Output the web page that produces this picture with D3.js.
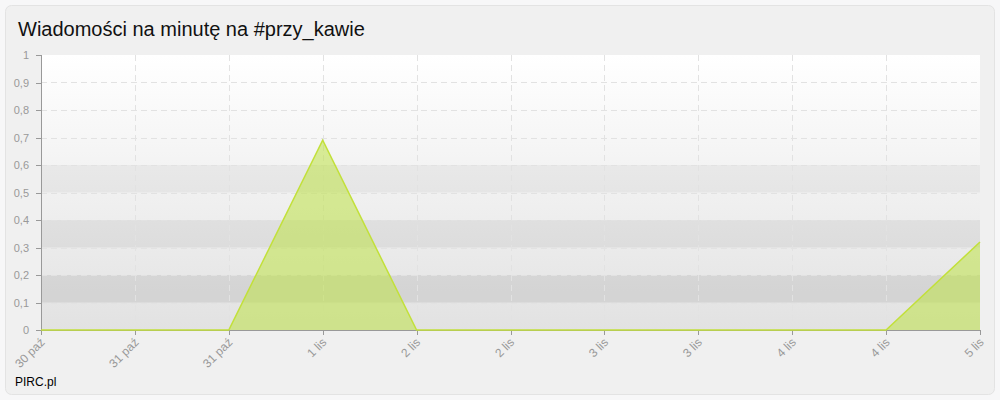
<!DOCTYPE html>
<html>
<head>
    <meta charset='utf-8' />
    <title>Wiadomości na minutę</title>
    <script src="https://d3js.org/d3.v7.min.js" charset="utf-8"></script>
    <style>
        body {
            margin: 0;
            background: #f7f7f8;
            font-family: Arial, "Liberation Sans", sans-serif;
        }

        .axis path,
        .axis line {
            fill: none;
            stroke: #999;
            shape-rendering: crispEdges;
        }

        .axis text {
            fill: #999;
            font-size: 11px;
        }

        .x.axis text {
            font-size: 12px;
        }

        .grid line {
            stroke: #e2e2e2;
            stroke-dasharray: 6, 4;
            shape-rendering: crispEdges;
        }

        .area {
            fill: rgb(190, 225, 70);
            fill-opacity: 0.55;
        }

        .line {
            fill: none;
            stroke: #c2e03a;
            stroke-width: 1.5px;
        }
    </style>
</head>

<body>
    <script>
        var title = "Wiadomości na minutę na #przy_kawie";
        var credit = "PIRC.pl";

        // x labels (several readings fall on the same day)
        var labels = ["30 paź", "31 paź", "31 paź", "1 lis", "2 lis", "2 lis",
                      "3 lis", "3 lis", "4 lis", "4 lis", "5 lis"];
        var values = [0, 0, 0, 0.69, 0, 0, 0, 0, 0, 0, 0.32];
        var yTicks = [0, 0.1, 0.2, 0.3, 0.4, 0.5, 0.6, 0.7, 0.8, 0.9, 1];

        var data = labels.map(function (l, i) {
            return { i: i, label: l, value: values[i] };
        });

        var margin = { top: 55, right: 20, bottom: 70, left: 41 };
        var W = 1000, H = 400;
        var width = W - margin.left - margin.right,
            height = H - margin.top - margin.bottom;

        var root = d3.select("body").append("svg")
            .attr("width", W)
            .attr("height", H);

        var defs = root.append("defs");
        var grad = defs.append("linearGradient")
            .attr("id", "bg")
            .attr("x1", 0).attr("y1", 0).attr("x2", 0).attr("y2", 1);
        grad.append("stop").attr("offset", "0%").attr("stop-color", "#ffffff");
        grad.append("stop").attr("offset", "100%").attr("stop-color", "#e2e2e2");

        // panel
        root.append("rect")
            .attr("x", 5.5).attr("y", 5.5)
            .attr("width", 989).attr("height", 389)
            .attr("rx", 6)
            .attr("fill", "#f0f0f0")
            .attr("stroke", "#e3e3e3");

        root.append("text")
            .attr("x", 18)
            .attr("y", 36)
            .style("font-size", "20px")
            .style("fill", "#111")
            .text(title);

        root.append("text")
            .attr("x", 15)
            .attr("y", 386)
            .style("font-size", "12px")
            .style("fill", "#000")
            .text(credit);

        var svg = root.append("g")
            .attr("transform", "translate(" + margin.left + "," + margin.top + ")");

        var x = d3.scaleLinear()
            .domain([0, labels.length - 1])
            .range([0, width]);

        var y = d3.scaleLinear()
            .domain([0, 1])
            .range([height, 0]);

        // background
        svg.append("rect")
            .attr("width", width)
            .attr("height", height)
            .attr("fill", "url(#bg)");

        // darker stripes
        var stripes = [[0.1, 0.2, 0.075], [0.3, 0.4, 0.06], [0.5, 0.6, 0.045]];
        svg.selectAll(".stripe")
            .data(stripes)
            .enter().append("rect")
            .attr("class", "stripe")
            .attr("x", 0)
            .attr("width", width)
            .attr("y", function (d) { return y(d[1]); })
            .attr("height", function (d) { return y(d[0]) - y(d[1]); })
            .attr("fill", "#000")
            .attr("fill-opacity", function (d) { return d[2]; });

        // grid
        svg.append("g")
            .attr("class", "grid")
            .selectAll("line")
            .data(yTicks.slice(1, -1))
            .enter().append("line")
            .attr("x1", 0).attr("x2", width)
            .attr("y1", function (d) { return Math.round(y(d)) + 0.5; })
            .attr("y2", function (d) { return Math.round(y(d)) + 0.5; });

        svg.append("g")
            .attr("class", "grid")
            .selectAll("line")
            .data(d3.range(1, labels.length - 1))
            .enter().append("line")
            .attr("y1", 0).attr("y2", height)
            .attr("x1", function (d) { return Math.round(x(d)) + 0.5; })
            .attr("x2", function (d) { return Math.round(x(d)) + 0.5; });

        // area + line
        var area = d3.area()
            .x(function (d) { return x(d.i); })
            .y0(height)
            .y1(function (d) { return y(d.value); });

        var line = d3.line()
            .x(function (d) { return x(d.i); })
            .y(function (d) { return y(d.value); });

        svg.append("path")
            .datum(data)
            .attr("class", "area")
            .attr("d", area);

        // axes
        var fmt = function (d) { return String(d).replace(".", ","); };

        svg.append("g")
            .attr("class", "y axis")
            .call(d3.axisLeft(y)
                .tickValues(yTicks)
                .tickFormat(fmt)
                .tickSize(5)
                .tickSizeOuter(5)
                .tickPadding(7));

        var gx = svg.append("g")
            .attr("class", "x axis")
            .attr("transform", "translate(0," + height + ")")
            .call(d3.axisBottom(x)
                .tickValues(d3.range(labels.length))
                .tickFormat(function (i) { return labels[i]; })
                .tickSize(5)
                .tickSizeOuter(0));

        gx.selectAll("text")
            .attr("x", null)
            .attr("y", null)
            .attr("dy", null)
            .style("text-anchor", "end")
            .attr("transform", "translate(4,13) rotate(-45)");

        svg.append("path")
            .datum(data)
            .attr("class", "line")
            .attr("d", line);
    </script>
</body>
</html>
